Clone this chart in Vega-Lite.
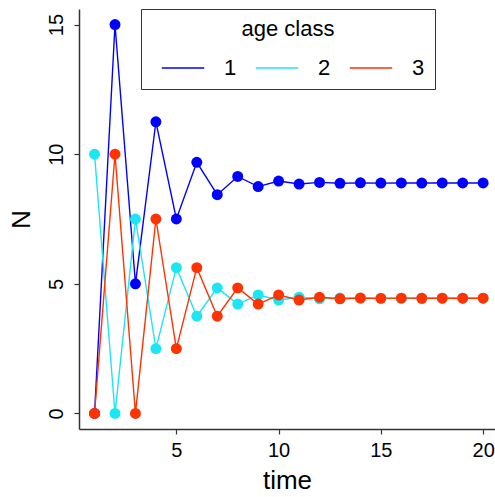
{
  "$schema": "https://vega.github.io/schema/vega-lite/v6.json",
  "width": 416,
  "height": 420,
  "autosize": {"type": "none"},
  "padding": {"left": 79, "top": 9, "right": 0, "bottom": 68},
  "background": "white",
  "config": {
    "view": {"stroke": null},
    "font": "Liberation Sans",
    "axis": {"grid": false, "domainColor": "#333333", "tickColor": "#333333", "labelColor": "black", "titleColor": "black", "labelFont": "Liberation Sans", "titleFont": "Liberation Sans", "titleFontWeight": "normal", "domainWidth": 1.5, "tickWidth": 1.2}
  },
  "data": {"values": [
    {"time": 1, "age": "1", "N": 0}, {"time": 1, "age": "2", "N": 10}, {"time": 1, "age": "3", "N": 0},
    {"time": 2, "age": "1", "N": 15}, {"time": 2, "age": "2", "N": 0}, {"time": 2, "age": "3", "N": 10},
    {"time": 3, "age": "1", "N": 5}, {"time": 3, "age": "2", "N": 7.5}, {"time": 3, "age": "3", "N": 0},
    {"time": 4, "age": "1", "N": 11.25}, {"time": 4, "age": "2", "N": 2.5}, {"time": 4, "age": "3", "N": 7.5},
    {"time": 5, "age": "1", "N": 7.5}, {"time": 5, "age": "2", "N": 5.625}, {"time": 5, "age": "3", "N": 2.5},
    {"time": 6, "age": "1", "N": 9.6875}, {"time": 6, "age": "2", "N": 3.75}, {"time": 6, "age": "3", "N": 5.625},
    {"time": 7, "age": "1", "N": 8.4375}, {"time": 7, "age": "2", "N": 4.84375}, {"time": 7, "age": "3", "N": 3.75},
    {"time": 8, "age": "1", "N": 9.140625}, {"time": 8, "age": "2", "N": 4.21875}, {"time": 8, "age": "3", "N": 4.84375},
    {"time": 9, "age": "1", "N": 8.75}, {"time": 9, "age": "2", "N": 4.5703}, {"time": 9, "age": "3", "N": 4.21875},
    {"time": 10, "age": "1", "N": 8.9648}, {"time": 10, "age": "2", "N": 4.375}, {"time": 10, "age": "3", "N": 4.5703},
    {"time": 11, "age": "1", "N": 8.8477}, {"time": 11, "age": "2", "N": 4.4824}, {"time": 11, "age": "3", "N": 4.375},
    {"time": 12, "age": "1", "N": 8.9111}, {"time": 12, "age": "2", "N": 4.4238}, {"time": 12, "age": "3", "N": 4.4824},
    {"time": 13, "age": "1", "N": 8.877}, {"time": 13, "age": "2", "N": 4.4556}, {"time": 13, "age": "3", "N": 4.4238},
    {"time": 14, "age": "1", "N": 8.8953}, {"time": 14, "age": "2", "N": 4.4385}, {"time": 14, "age": "3", "N": 4.4556},
    {"time": 15, "age": "1", "N": 8.8855}, {"time": 15, "age": "2", "N": 4.4476}, {"time": 15, "age": "3", "N": 4.4385},
    {"time": 16, "age": "1", "N": 8.8907}, {"time": 16, "age": "2", "N": 4.4427}, {"time": 16, "age": "3", "N": 4.4476},
    {"time": 17, "age": "1", "N": 8.8879}, {"time": 17, "age": "2", "N": 4.4453}, {"time": 17, "age": "3", "N": 4.4427},
    {"time": 18, "age": "1", "N": 8.8894}, {"time": 18, "age": "2", "N": 4.444}, {"time": 18, "age": "3", "N": 4.4453},
    {"time": 19, "age": "1", "N": 8.8886}, {"time": 19, "age": "2", "N": 4.4447}, {"time": 19, "age": "3", "N": 4.444},
    {"time": 20, "age": "1", "N": 8.889}, {"time": 20, "age": "2", "N": 4.4443}, {"time": 20, "age": "3", "N": 4.4447}
  ]},
  "encoding": {
    "x": {"field": "time", "type": "quantitative", "scale": {"domain": [0.24, 20.58], "nice": false, "zero": false},
      "axis": {"values": [5, 10, 15, 20], "title": "time", "labelFontSize": 20, "titleFontSize": 26, "tickSize": 5, "labelPadding": 6, "titlePadding": 7, "labelFlush": false}},
    "y": {"field": "N", "type": "quantitative", "scale": {"domain": [-0.6, 15.6], "nice": false, "zero": false},
      "axis": {"values": [0, 5, 10, 15], "title": "N", "labelFontSize": 20, "titleFontSize": 26, "tickSize": 5, "labelAngle": -90, "labelAlign": "center", "labelBaseline": "bottom", "labelPadding": 8, "titlePadding": 12, "labelFlush": false}},
    "color": {"field": "age", "type": "nominal", "scale": {"domain": ["1", "2", "3"], "range": ["#0000FF", "#1CE6F2", "#FF3300"]}},
    "order": {"field": "time", "type": "quantitative"}
  },
  "layer": [
    {"mark": {"type": "line", "strokeWidth": 1.4},
     "encoding": {"detail": {"field": "age"},
       "color": {"field": "age", "type": "nominal", "scale": {"domain": ["1", "2", "3"], "range": ["#0000FF", "#1CE6F2", "#FF3300"]},
         "legend": {"title": "age class", "orient": "none", "legendX": 62, "legendY": 0, "direction": "horizontal", "symbolType": "stroke", "symbolSize": 1800, "symbolStrokeWidth": 1.5, "symbolOffset": 10, "labelFontSize": 22, "titleFontSize": 22, "titleFontWeight": "normal", "titleAnchor": "middle", "titlePadding": 5, "labelOffset": 19, "columnPadding": 8, "padding": 10, "strokeColor": "#333333", "labelColor": "black", "titleColor": "black", "labelFont": "Liberation Sans", "titleFont": "Liberation Sans"}}}},
    {"mark": {"type": "point", "filled": true, "opacity": 1, "size": 120},
     "encoding": {"color": {"field": "age", "type": "nominal", "legend": null}}}
  ]
}
